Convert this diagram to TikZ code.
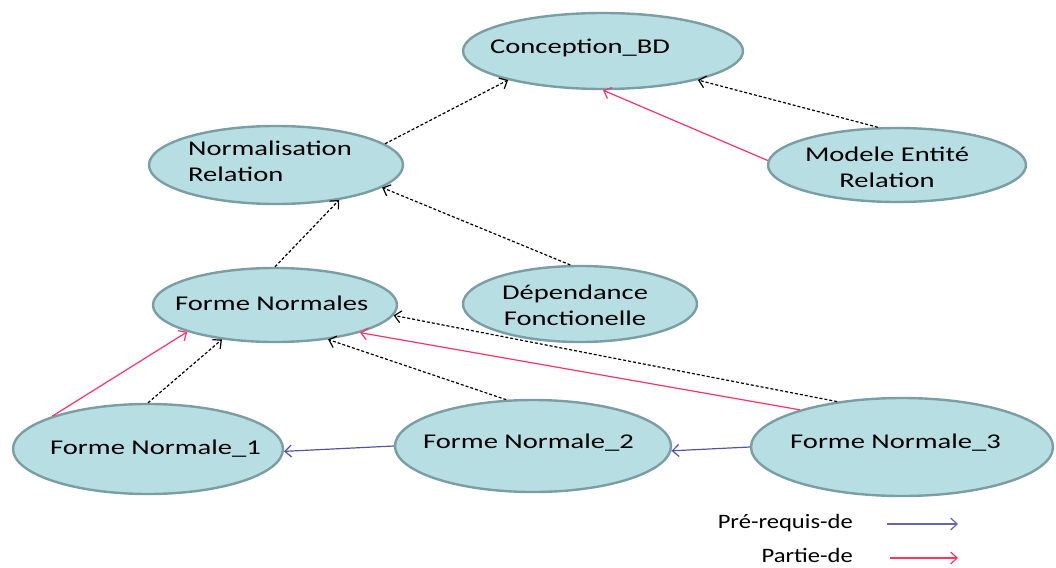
\documentclass[tikz,border=0pt]{standalone}
\usepackage{fontspec}
\setmainfont{Carlito}[FakeStretch=1.36]
\newfontfamily\legendfont{Carlito}[FakeStretch=1.2]
\usetikzlibrary{shapes.geometric,arrows.meta}
\definecolor{cellfill}{RGB}{183,222,226}
\definecolor{celledge}{RGB}{122,158,163}
\definecolor{partred}{RGB}{255,51,102}
\definecolor{prereqblue}{RGB}{84,84,164}
\definecolor{legendblue}{RGB}{100,100,180}

\begin{document}
\begin{tikzpicture}[x=1pt,y=-1pt,
  concept/.style={ellipse, draw=celledge, fill=cellfill, line width=2.4pt, inner sep=0pt},
  txt/.style={font=\fontsize{21}{26}\selectfont, text=black, inner sep=0pt},
  legtxt/.style={font=\legendfont\fontsize{20.5}{24}\selectfont, text=black, inner sep=0pt},
  barb/.style={-{Straight Barb[length=6.5pt,width=12pt]}},
  dep/.style={barb, draw=black, line width=1.2pt, dash pattern=on 3pt off 2pt},
  partof/.style={barb, draw=partred, line width=1.2pt},
  prereq/.style={barb, draw=prereqblue, line width=1.2pt}]

\useasboundingbox (0,0) rectangle (1056,567);

% concepts
\node[concept, minimum width=280, minimum height=76] (conc) at (603,51) {};
\node[concept, minimum width=254, minimum height=78] (norm) at (276,165) {};
\node[concept, minimum width=258, minimum height=74] (mer)  at (897,165) {};
\node[concept, minimum width=244, minimum height=74] (fns)  at (275,305) {};
\node[concept, minimum width=234, minimum height=76] (dep)  at (580,304) {};
\node[concept, minimum width=270, minimum height=90] (fn1)  at (148,449) {};
\node[concept, minimum width=276, minimum height=92] (fn2)  at (533,446) {};
\node[concept, minimum width=302, minimum height=98] (fn3)  at (902,447) {};

% concept names
\node[txt, anchor=west] (concT) at (490,48) {Conception\_BD};
\node[txt, anchor=west, align=left] (normT) at (188,161) {Normalisation\\Relation};
\node[txt, align=center] (merT) at (887,167) {Modele Entité\\Relation};
\node[txt, anchor=west] (fnsT) at (175,303) {Forme Normales};
\node[txt, align=center] (depT) at (575,305) {Dépendance\\Fonctionelle};
\node[txt, anchor=west] (fn1T) at (50,449) {Forme Normale\_1};
\node[txt, anchor=west] (fn2T) at (423,443) {Forme Normale\_2};
\node[txt, anchor=west] (fn3T) at (790,443) {Forme Normale\_3};

% dependencies
\draw[dep] (norm.11) -- (conc.197.7);
\draw[dep] (mer.117) -- (conc.343);
\draw[partof] (mer.178.7) -- (conc.270);
\draw[dep] (dep.104) -- (norm.348);
\draw[dep] (fns.90) -- (norm.331);
\draw[partof] (fn1.161) -- (fns.197.8);
\draw[dep] (fn1.90) -- (fns.213.4);
\draw[dep] (fn2.120) -- (fns.327.5);
\draw[dep] (fn3.145) -- (fns.355);
\draw[partof] (fn3.160) -- (fns.342.8);
\draw[prereq] (fn2.180) -- (fn1.-1);
\draw[prereq] (fn3.180) -- (fn2.-2);

% legend
\node[legtxt, anchor=east] (legA) at (853,523) {Pré-requis-de};
\node[legtxt, anchor=east] (legB) at (853,555) {Partie-de};
\coordinate (legAs) at (887,524);
\coordinate (legAe) at (958,524);
\coordinate (legBs) at (890,558);
\coordinate (legBe) at (958,558);
\draw[prereq, draw=legendblue] (legAs) -- (legAe);
\draw[partof] (legBs) -- (legBe);
\end{tikzpicture}
\end{document}
